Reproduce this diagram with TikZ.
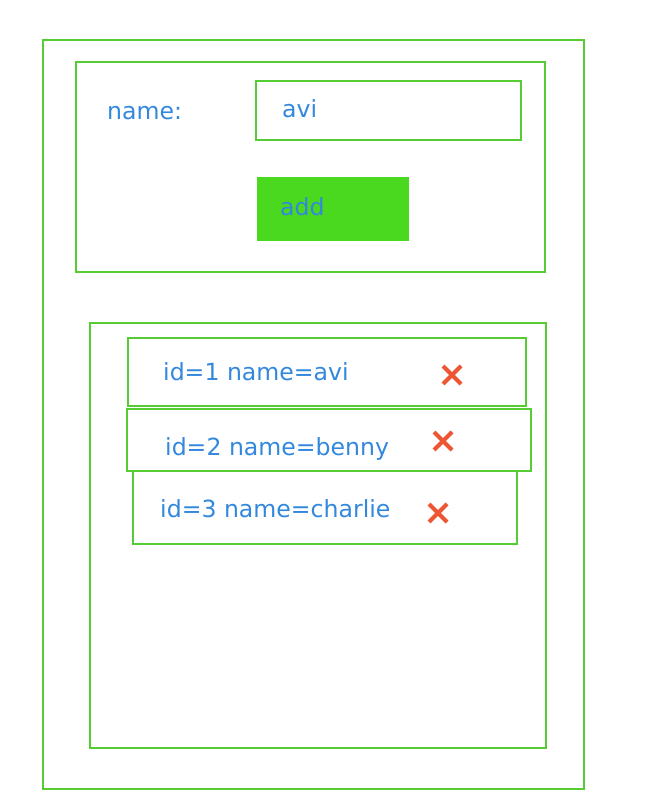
\documentclass[tikz,border=0pt]{standalone}
\usepackage{fontspec}
\setmainfont{DejaVu Sans}
\definecolor{gline}{HTML}{55CC33}
\definecolor{gfill}{HTML}{4AD91E}
\definecolor{tblue}{HTML}{3388DD}
\definecolor{xred}{HTML}{EE5533}
\tikzset{
  box/.style={draw=gline, line width=2pt, anchor=north west, inner sep=0pt, outer sep=0pt},
  lbl/.style={anchor=base west, inner sep=0pt, text=tblue, font=\fontsize{23.6}{28}\selectfont},
  xmark/.style={draw=xred, line width=4pt}
}
\begin{document}
\begin{tikzpicture}[x=1pt,y=-1pt]
\useasboundingbox (0,0) rectangle (650,810);
\fill[white] (0,0) rectangle (650,810);
% outer frame
\node[box, minimum width=541pt, minimum height=749pt] (outer) at (43,40) {};
% top form panel
\node[box, minimum width=469pt, minimum height=210pt] (form) at (76,62) {};
\node[lbl] (namelbl) at (107,120) {name:};
\node[box, minimum width=265pt, minimum height=59pt] (input) at (256,81) {};
\node[lbl] (inputtxt) at (282,118) {avi};
\node[box, draw=none, fill=gfill, minimum width=152pt, minimum height=64pt] (addbtn) at (257,177) {};
\node[lbl] (addtxt) at (280,215) {add};
% list panel
\node[box, minimum width=456pt, minimum height=425pt] (list) at (90,323) {};
% rows
\node[box, minimum width=398pt, minimum height=68pt] (row1) at (128,338) {};
\node[lbl] (t1) at (163,380) {id=1 name=avi};
\node[box, minimum width=404pt, minimum height=62pt] (row2) at (127,409) {};
\node[lbl] (t2) at (165,455) {id=2 name=benny};
\node[box, minimum width=384pt, minimum height=73pt] (row3) at (133,471) {};
\node[lbl] (t3) at (160,517) {id=3 name=charlie};
% delete marks
\coordinate (x1) at (452,375);
\coordinate (x2) at (443,441);
\coordinate (x3) at (438,513);
\foreach \c in {x1,x2,x3}{
  \draw[xmark] ([shift={(-9,-9)}]\c) -- ([shift={(9,9)}]\c);
  \draw[xmark] ([shift={(-9,9)}]\c) -- ([shift={(9,-9)}]\c);
}
\end{tikzpicture}
\end{document}
